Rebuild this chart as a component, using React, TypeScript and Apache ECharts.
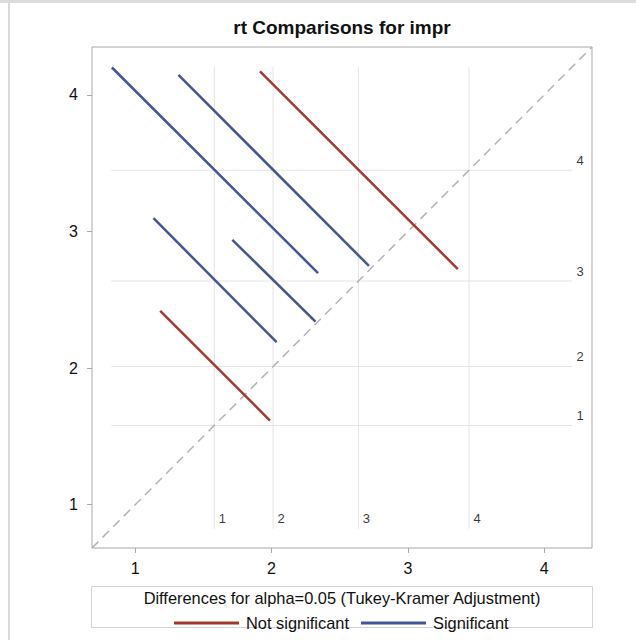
import React, { useEffect, useRef } from "react";
import * as echarts from "echarts";

// LS means of the four levels (reference lines)
const levels = ["1", "2", "3", "4"];
const means = [1.58, 2.011, 2.637, 3.448];
const refMin = 0.824;
const refMax = 4.205;

// Diffogram segments (endpoints)
const segX1 = [1.183, 1.134, 1.712, 0.829, 1.317, 1.915];
const segY1 = [2.419, 3.097, 2.939, 4.2, 4.146, 4.171];
const segX2 = [1.988, 2.037, 2.322, 2.341, 2.714, 3.366];
const segY2 = [1.616, 2.189, 2.34, 2.695, 2.748, 2.725];
const segSignificant = [false, true, true, true, true, false];

const tickValues = [1, 2, 3, 4];
const axisMin = 0.683;
const axisMax = 4.35;

const FONT = "Liberation Sans";
const RED = "#A23A2E";
const BLUE = "#445694";

export default function App() {
  const ref = useRef<HTMLDivElement>(null);
  useEffect(() => {
    if (!ref.current) return;
    const chart = echarts.init(ref.current, undefined, { renderer: "svg" });

    const series: any[] = [];
    // diagonal
    series.push({
      type: "line",
      data: [
        [axisMin, axisMin],
        [axisMax, axisMax],
      ],
      symbol: "none",
      silent: true,
      lineStyle: { color: "#b4b4b4", width: 1.5, type: [9, 6] },
      z: 1,
    });
    // reference lines
    means.forEach((m) => {
      series.push({
        type: "line",
        data: [
          [m, refMin],
          [m, refMax],
        ],
        symbol: "none",
        silent: true,
        lineStyle: { color: "#e4e4e4", width: 1 },
        z: 0,
      });
      series.push({
        type: "line",
        data: [
          [refMin, m],
          [refMax, m],
        ],
        symbol: "none",
        silent: true,
        lineStyle: { color: "#e4e4e4", width: 1 },
        z: 0,
      });
    });
    const refLabel = {
      show: true,
      position: "inside",
      offset: [8, -10],
      formatter: (p: any) => p.name,
      fontSize: 13,
      fontFamily: FONT,
      color: "#000",
    };
    // reference labels
    series.push({
      type: "scatter",
      symbolSize: 0,
      silent: true,
      data: means.map((m, i) => ({ value: [m, refMin], name: levels[i] })),
      label: refLabel,
    });
    series.push({
      type: "scatter",
      symbolSize: 0,
      silent: true,
      data: means.map((m, i) => ({ value: [refMax, m], name: levels[i] })),
      label: refLabel,
    });
    // segments
    segX1.forEach((x1, i) => {
      const sig = segSignificant[i];
      series.push({
        type: "line",
        name: sig ? "Significant" : "Not significant",
        data: [
          [x1, segY1[i]],
          [segX2[i], segY2[i]],
        ],
        symbol: "none",
        lineStyle: { color: sig ? BLUE : RED, width: 2.5 },
        itemStyle: { color: sig ? BLUE : RED },
        z: 3,
      });
    });

    chart.setOption({
      animation: false,
      grid: {
        left: 92,
        top: 47,
        width: 500,
        height: 501,
        show: true,
        borderColor: "#a8a8a8",
        borderWidth: 1,
        backgroundColor: "#fff",
      },
      xAxis: {
        type: "value",
        min: axisMin,
        max: axisMax,
        axisLine: { show: false },
        splitLine: { show: false },
        axisTick: {
          show: true,
          customValues: tickValues,
          length: 5,
          lineStyle: { color: "#a8a8a8" },
        },
        axisLabel: {
          customValues: tickValues,
          fontSize: 16,
          fontFamily: FONT,
          color: "#111",
          margin: 12,
        },
      },
      yAxis: {
        type: "value",
        min: axisMin,
        max: axisMax,
        axisLine: { show: false },
        splitLine: { show: false },
        axisTick: {
          show: true,
          customValues: tickValues,
          length: 5,
          lineStyle: { color: "#a8a8a8" },
        },
        axisLabel: {
          customValues: tickValues,
          fontSize: 16,
          fontFamily: FONT,
          color: "#111",
          margin: 14,
        },
      },
      legend: {
        left: 169,
        top: 610,
        icon: "rect",
        itemWidth: 65,
        itemHeight: 3,
        itemGap: 12,
        data: ["Not significant", "Significant"],
        textStyle: { fontSize: 16.4, fontFamily: FONT, color: "#111", padding: [0, 0, 0, 2] },
      },
      graphic: [
        { type: "rect", shape: { x: 0, y: 0, width: 636, height: 3 }, style: { fill: "#dcdcdc" }, silent: true },
        { type: "rect", shape: { x: 8, y: 0, width: 2, height: 640 }, style: { fill: "#d8d8d8" }, silent: true },
        {
          type: "text",
          x: 342,
          y: 27,
          style: {
            text: "rt Comparisons for impr",
            fontSize: 19,
            fontWeight: "bold",
            fontFamily: FONT,
            fill: "#111",
            textAlign: "center",
            textVerticalAlign: "middle",
          },
        },
        {
          type: "rect",
          shape: { x: 91.5, y: 586.5, width: 501, height: 41 },
          style: { fill: "none", stroke: "#d4d4d4", lineWidth: 1 },
          silent: true,
        },
        {
          type: "text",
          x: 342,
          y: 598,
          style: {
            text: "Differences for alpha=0.05 (Tukey-Kramer Adjustment)",
            fontSize: 16.4,
            fontFamily: FONT,
            fill: "#111",
            textAlign: "center",
            textVerticalAlign: "middle",
          },
        },
      ],
      series,
    });
    return () => chart.dispose();
  }, []);
  return (
    <div
      ref={ref}
      style={{ position: "fixed", left: 0, top: 0, width: 636, height: 640, background: "#fff" }}
    />
  );
}
